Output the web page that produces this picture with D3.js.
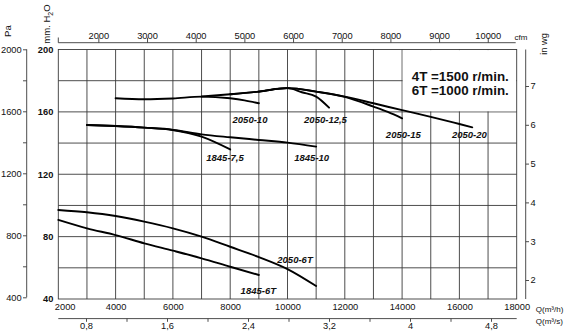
<!DOCTYPE html>
<html><head><meta charset="utf-8">
<script src="https://cdn.jsdelivr.net/npm/d3@7"></script>
<style>html,body{margin:0;padding:0;background:#fff;}svg{display:block;}</style>
</head><body>
<script>
// ---------- DATA ----------
const qTicks   = [2000,4000,6000,8000,10000,12000,14000,16000,18000];   // m3/h
const mmTicks  = [40,80,120,160,200];                                   // mm H2O
const paTicks  = [400,600,800,1000,1200,1400,1600,1800,2000];            // Pa
const inTicks  = [2,3,4,5,6,7];                                         // in wg
const cfmTicks = [2000,3000,4000,5000,6000,7000,8000,9000,10000];        // cfm
const m3sTicks = [0.8,1.2,1.6,2.0,2.4,2.8,3.2,3.6,4.0,4.4,4.8];          // m3/s

const q2050_10  = [4000,5000,6000,7000,8000,8500,9000];
const p2050_10  = [168.7,168.1,168.6,169.8,168.7,167.4,165.5];
const q2050_125 = [7000,8000,9000,10000,10500,11000,11450];
const p2050_125 = [169.8,171.3,173.0,175.2,172.6,169.8,162.7];
const q2050_15  = [8000,9000,10000,11000,12000,13000,13500,14000];
const p2050_15  = [171.3,173.0,175.2,173.0,169.6,163.4,160.0,155.9];
const q2050_20  = [9000,10000,11000,12000,13000,14000,15000,16000,16450];
const p2050_20  = [173.0,175.2,173.0,169.8,165.5,161.1,156.8,152.2,150.1];
const q1845_75  = [3000,4000,5000,6000,7000,8000];
const p1845_75  = [151.6,150.9,149.9,148.4,144.1,135.9];
const q1845_10  = [3000,4000,5000,6000,7000,8000,9000,10000,11000];
const p1845_10  = [151.6,150.9,149.9,148.4,145.6,143.7,142.0,140.3,137.7];
const q2050_6T  = [2000,3000,4000,5000,6000,7000,8000,9000,10000,11000];
const p2050_6T  = [97.1,95.6,93.2,89.6,85.3,80.0,73.5,66.9,59.2,48.3];
const q1845_6T  = [2000,3000,4000,5000,6000,7000,8000,9000];
const p1845_6T  = [90.7,85.3,81.0,75.7,71.0,66.1,60.7,55.4];

const seriesNames = ["2050-10","2050-12,5","2050-15","2050-20","1845-7,5","1845-10","2050-6T","1845-6T"];
const seriesQ = [q2050_10,q2050_125,q2050_15,q2050_20,q1845_75,q1845_10,q2050_6T,q1845_6T];
const seriesP = [p2050_10,p2050_125,p2050_15,p2050_20,p1845_75,p1845_10,p2050_6T,p1845_6T];
// label anchors in data units (Q, mm)
const labelQ = [8691,11326,14042,16346,7819,10845,10262,8981];
const labelP = [152.8,152.8,143.1,143.1,128.2,128.2,63.3,43.1];

const speedLines = ["4T =1500 r/min.","6T =1000 r/min."];

// ---------- LAYOUT ----------
const W = 566, H = 332;
const FONT = "'Liberation Sans', Arial, Helvetica, sans-serif";
const GRID = "#3a3a3a";

const x = d3.scaleLinear().domain([2000,18000]).range([58.3,516.7]);
const y = d3.scaleLinear().domain([40,200]).range([299,49.5]);
const yPa = d3.scaleLinear().domain([400,2000]).range([297.3,49.3]);
const yIn = d3.scaleLinear().domain([2,7]).range([280,86]);
const xCfm = d3.scaleLinear().domain([2000/1.699,18000/1.699]).range([58.3,516.7]);
const xM3s = d3.scaleLinear().domain([0.8,4.8]).range([86,491]);

const svg = d3.select("body").append("svg").attr("width",W).attr("height",H)
  .attr("font-family",FONT);
svg.append("rect").attr("width",W).attr("height",H).attr("fill","#fff");

// grid
const gridX = d3.range(3000,18000,1000);
const gridY = d3.range(60,200,20);
svg.append("g").selectAll("line").data(gridX).join("line")
  .attr("x1",d=>x(d)).attr("x2",d=>x(d)).attr("y1",y(200)).attr("y2",y(40))
  .attr("stroke",GRID).attr("stroke-width",0.9);
svg.append("g").selectAll("line").data(gridY).join("line")
  .attr("x1",x(2000)).attr("x2",x(18000)).attr("y1",d=>y(d)).attr("y2",d=>y(d))
  .attr("stroke",GRID).attr("stroke-width",0.9);

// white box for speed note
svg.append("rect").attr("x",x(14000)+0.6).attr("y",y(200)+0.6)
  .attr("width",x(18000)-x(14000)-1.2).attr("height",y(160)-y(200)-1.2).attr("fill","#fff");

// frame
svg.append("rect").attr("x",x(2000)).attr("y",y(200))
  .attr("width",x(18000)-x(2000)).attr("height",y(40)-y(200))
  .attr("fill","none").attr("stroke",GRID).attr("stroke-width",0.9);

// curves
const line = d3.line().x(d=>x(d[0])).y(d=>y(d[1])).curve(d3.curveMonotoneX);
seriesQ.forEach((qs,i)=>{
  const pts = qs.map((q,j)=>[q,seriesP[i][j]]);
  svg.append("path").attr("d",line(pts)).attr("fill","none")
    .attr("stroke","#000").attr("stroke-width",1.9).attr("stroke-linecap","round");
});

// curve labels
svg.append("g").selectAll("text").data(seriesNames).join("text")
  .attr("x",(d,i)=>x(labelQ[i])).attr("y",(d,i)=>y(labelP[i]))
  .attr("text-anchor","middle").attr("font-size",9.5).attr("font-weight","bold")
  .attr("font-style","italic").attr("fill","#111").text(d=>d);

// speed note
svg.append("g").selectAll("text").data(speedLines).join("text")
  .attr("x",411.7).attr("y",(d,i)=>80.7+i*14.3)
  .attr("font-size",13.4).attr("font-weight","bold").attr("fill","#111").text(d=>d);

function styleAxis(g, size){
  g.attr("font-family",FONT).attr("font-size",size);
  g.selectAll("line").attr("stroke",GRID).attr("stroke-width",0.9);
  g.selectAll("text").attr("fill","#111");
}

// bottom Q (m3/h) labels
const gQ = svg.append("g").attr("transform",`translate(0,${y(40)})`)
  .call(d3.axisBottom(x).tickValues(qTicks).tickSize(0).tickFormat(d3.format("d")));
gQ.select(".domain").remove();
gQ.selectAll("text").attr("y",11).attr("dy",0)
  .attr("dx",d => d===2000 ? 6.4 : 0);
styleAxis(gQ,9.3);

// m3/s axis
const gS = svg.append("g").attr("transform","translate(0,318.6)")
  .call(d3.axisBottom(xM3s).tickValues(m3sTicks).tickSize(3.2)
    .tickFormat(d => (Math.round(d*10)%8===0) ? String(+d.toFixed(1)).replace(".",",") : ""));
gS.select(".domain").remove();
gS.selectAll("text").attr("y",10).attr("dy",0);
styleAxis(gS,9.3);
svg.append("line").attr("x1",x(2000)).attr("x2",x(18000)).attr("y1",318.6).attr("y2",318.6)
  .attr("stroke",GRID).attr("stroke-width",0.9);

// top cfm axis
const gC = svg.append("g").attr("transform","translate(0,42.7)")
  .call(d3.axisTop(xCfm).tickValues(cfmTicks).tickSize(5).tickFormat(d3.format("d")));
gC.select(".domain").remove();
gC.selectAll("text").attr("y",-3.4).attr("dy",0);
styleAxis(gC,9.3);
svg.append("line").attr("x1",x(2000)).attr("x2",515.7).attr("y1",42.7).attr("y2",42.7)
  .attr("stroke",GRID).attr("stroke-width",0.9);
svg.append("line").attr("x1",x(2000)).attr("x2",x(2000)).attr("y1",37.5).attr("y2",42.7)
  .attr("stroke",GRID).attr("stroke-width",0.9);

// Pa axis
const gP = svg.append("g").attr("transform","translate(26.7,0)")
  .call(d3.axisLeft(yPa).tickValues(paTicks).tickSize(3.7).tickPadding(1.3)
    .tickFormat(d => d%400===0 ? d : ""));
gP.select(".domain").remove();
styleAxis(gP,9.3);
svg.append("line").attr("x1",26.7).attr("x2",26.7).attr("y1",yPa(2000)).attr("y2",yPa(400))
  .attr("stroke",GRID).attr("stroke-width",0.9);

// mm H2O labels
const gM = svg.append("g").attr("transform",`translate(${x(2000)},0)`)
  .call(d3.axisLeft(y).tickValues(mmTicks).tickSize(0).tickPadding(5).tickFormat(d3.format("d")));
gM.select(".domain").remove();
gM.selectAll("text").attr("font-weight","bold");
styleAxis(gM,9.3);

// in wg axis
const gI = svg.append("g").attr("transform","translate(525.7,0)")
  .call(d3.axisRight(yIn).tickValues(inTicks).tickSize(3.3).tickPadding(1.5).tickFormat(d3.format("d")));
gI.select(".domain").remove();
styleAxis(gI,9.3);
svg.append("line").attr("x1",525.7).attr("x2",525.7).attr("y1",y(200)).attr("y2",y(40))
  .attr("stroke",GRID).attr("stroke-width",0.9);

// axis titles
svg.append("text").attr("transform","translate(11,31) rotate(-90)").attr("text-anchor","middle")
  .attr("font-size",9.6).attr("fill","#111").text("Pa");
const mmT = svg.append("text").attr("transform","translate(49.5,24) rotate(-90)")
  .attr("text-anchor","middle").attr("font-size",9.5).attr("fill","#111");
mmT.append("tspan").text("mm. H");
mmT.append("tspan").attr("dy",3).attr("font-size",7).text("2");
mmT.append("tspan").attr("dy",-3).text("O");
svg.append("text").attr("transform","translate(547,44) rotate(-90)").attr("text-anchor","middle")
  .attr("font-size",9.3).attr("fill","#111").text("in wg");
svg.append("text").attr("x",514.6).attr("y",40).attr("font-size",8).attr("fill","#111").text("cfm");
svg.append("text").attr("x",535.8).attr("y",311.6).attr("font-size",8).attr("fill","#111").text("Q(m³/h)");
svg.append("text").attr("x",535.8).attr("y",324.4).attr("font-size",8).attr("fill","#111").text("Q(m³/s)");
</script>
</body></html>
